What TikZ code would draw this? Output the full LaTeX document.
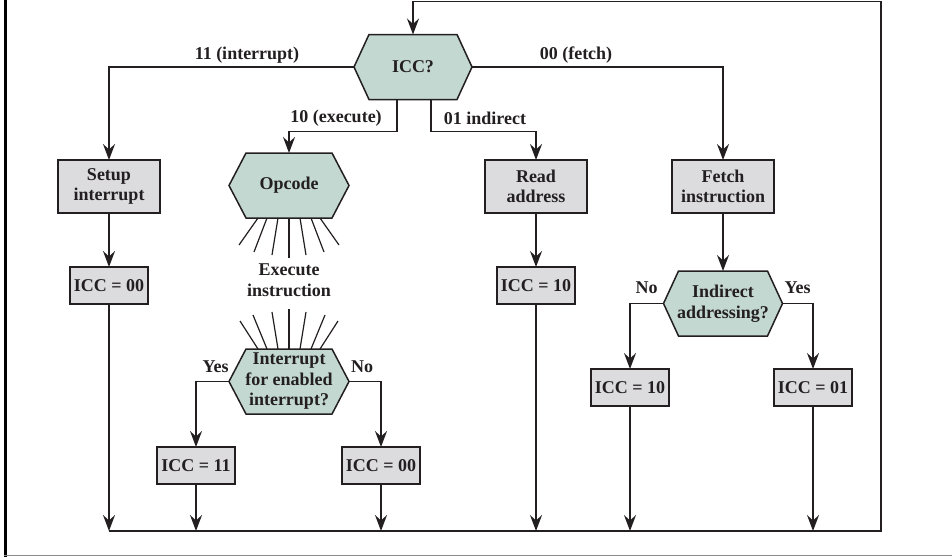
\documentclass[tikz,border=0pt]{standalone}
\usepackage{fontspec}
\setmainfont{Liberation Serif}
\usetikzlibrary{arrows.meta}
\definecolor{ink}{HTML}{231F20}
\definecolor{boxgray}{HTML}{DCDCDF}
\definecolor{hexgreen}{HTML}{C4D8D2}
\definecolor{rulegray}{HTML}{8A8A8A}
\pgfdeclarelayer{bg}
\pgfsetlayers{bg,main}

\begin{document}
\begin{tikzpicture}[x=1pt,y=-1pt,
  every node/.style={font=\fontsize{18}{20.5}\selectfont\bfseries, text=ink,
    inner sep=0pt, outer sep=0pt, align=center},
  proc/.style={draw=ink, line width=1.8pt, fill=boxgray,
    minimum width=102pt, minimum height=53pt},
  flag/.style={draw=ink, line width=1.8pt, fill=boxgray,
    minimum width=78pt, minimum height=37pt},
  decide/.style={minimum width=#1, minimum height=65pt},
  wire/.style={draw=ink, line width=1.9pt},
  flow/.style={wire, -{Stealth[length=16pt,width=12pt,inset=5.5pt]}},
  ray/.style={draw=ink, line width=1.2pt},
  hexline/.style={draw=ink, line width=1.5pt, fill=hexgreen}
]
\useasboundingbox (0,0) rectangle (952,557);

% page frame
\draw[black, line width=3pt] (5.5,0) -- (5.5,557);
\draw[rulegray, line width=1.5pt] (4,555.5) -- (952,555.5);

% decision hexagons (outline drawn on the background layer below)
\node[decide=118pt] (icc)  at (413,67)    {ICC?};
\node[decide=120pt] (opc)  at (289,185.5) {Opcode};
\node[decide=120pt] (intr) at (289,381.5) {Interrupt\\for enabled\\interrupt?};
\node[decide=119pt] (ind)  at (723,303.5) {Indirect\\addressing?};

% process boxes
\node[proc] (setup) at (109,186.5) {Setup\\interrupt};
\node[proc] (read)  at (536,186.5) {Read\\address};
\node[proc] (fetch) at (723,186.5) {Fetch\\instruction};

% ICC assignments
\node[flag] (iccA) at (109,285.5) {ICC = 00};
\node[flag] (iccB) at (536,285.5) {ICC = 10};
\node[flag] (iccC) at (196,465.5) {ICC = 11};
\node[flag] (iccD) at (381,465.5) {ICC = 00};
\node[flag] (iccE) at (630,387.5) {ICC = 10};
\node[flag] (iccF) at (813,387.5) {ICC = 01};

\node (exec) at (289,280) {Execute\\instruction};

\begin{pgfonlayer}{bg}
  \foreach \n/\s in {icc/15, opc/17, intr/17, ind/15}
    \filldraw[hexline] (\n.west) -- ([xshift=\s pt]\n.north west)
      -- ([xshift=-\s pt]\n.north east) -- (\n.east)
      -- ([xshift=-\s pt]\n.south east) -- ([xshift=\s pt]\n.south west) -- cycle;
\end{pgfonlayer}

% rays around the execute step
\foreach \a/\b/\c in {-31/-50/245, -22/-35/252, -11/-17/255, 0/0/258,
                      11/17/255, 22/35/252, 31/50/245}
  \draw[ray] ([xshift=\a pt]opc.south) -- ++({\b-\a},{\c-218});
\foreach \a/\b/\c in {-31/-49/321, -22/-36/315, -11/-17/312, 0/0/309,
                      11/17/312, 22/36/315, 31/49/321}
  \draw[ray] ([xshift=\a pt]intr.north) -- ++({\b-\a},{\c-349});

% return bus and loop back to the top
\coordinate (bus)  at (0,531);
\coordinate (busL) at (109,531);
\coordinate (busR) at (881,531);
\coordinate (loopT) at (881,1.5);
\draw[flow] (busL) -- (busR) -- (loopT) -| (icc.north);

% branches out of ICC?
\draw[flow] (icc.west) -| (setup.north);
\draw[flow] (icc.east) -| (fetch.north);
\draw[flow] ([xshift=-16pt]icc.south) -- ++(0,32) -| (opc.north);
\draw[flow] ([xshift=18pt]icc.south) -- ++(0,32) -| (read.north);
\node at (247,55)  {11 (interrupt)};
\node at (576,55)  {00 (fetch)};
\node at (336,118) {10 (execute)};
\node at (485,118) {01 indirect};

% interrupt column
\draw[flow] (setup.south) -- (iccA.north);
\draw[flow] (iccA.south) -- (iccA.south |- bus);

% execute column
\draw[flow] (intr.west) -| (iccC.north);
\draw[flow] (intr.east) -| (iccD.north);
\node at (215.5,367) {Yes};
\node at (362,367)   {No};
\draw[flow] (iccC.south) -- (iccC.south |- bus);
\draw[flow] (iccD.south) -- (iccD.south |- bus);

% indirect column
\draw[flow] (read.south) -- (iccB.north);
\draw[flow] (iccB.south) -- (iccB.south |- bus);

% fetch column
\draw[flow] (fetch.south) -- (ind.north);
\draw[flow] (ind.west) -| (iccE.north);
\draw[flow] (ind.east) -| (iccF.north);
\node at (646.5,288) {No};
\node at (797.5,288) {Yes};
\draw[flow] (iccE.south) -- (iccE.south |- bus);
\draw[flow] (iccF.south) -- (iccF.south |- bus);
\end{tikzpicture}
\end{document}
